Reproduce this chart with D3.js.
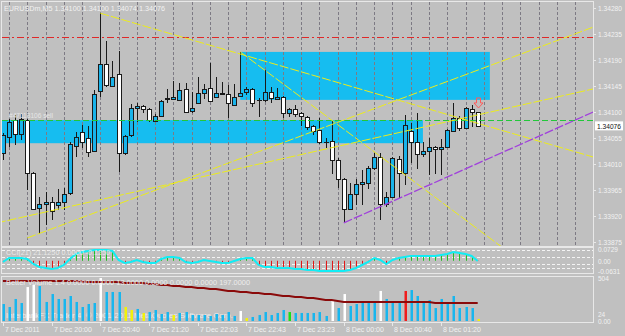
<!DOCTYPE html>
<html>
<head>
<meta charset="utf-8">
<script src="https://cdn.jsdelivr.net/npm/d3@7"></script>
<style>
  body { margin: 0; background: #c0c0c0; }
  svg { display: block; font-family: "Liberation Sans", Arial, sans-serif; }
</style>
</head>
<body>
<div id="chart"></div>
<script>
// EURUSDm M5 bars
const opens  = [1.34029,1.34057,1.34086,1.34062,1.34086,1.33994,1.33934,1.33941,1.33944,1.33939,1.33944,1.33960,1.34041,1.34065,1.34055,1.34033,1.34136,1.34183,1.34145,1.34166,1.34029,1.34060,1.34107,1.34110,1.34105,1.34084,1.34093,1.34122,1.34122,1.34121,1.34140,1.34102,1.34116,1.34133,1.34142,1.34126,1.34133,1.34131,1.34112,1.34128,1.34135,1.34140,1.34121,1.34121,1.34135,1.34122,1.34126,1.34098,1.34105,1.34098,1.34091,1.34076,1.34069,1.34048,1.34050,1.34017,1.33984,1.33932,1.33958,1.33975,1.33977,1.34003,1.34022,1.33941,1.33953,1.34019,1.33994,1.34067,1.34048,1.34027,1.34033,1.34040,1.34036,1.34040,1.34067,1.34090,1.34072,1.34105,1.34100];
const highs  = [1.34064,1.34088,1.34095,1.34097,1.34088,1.33996,1.33953,1.33962,1.33953,1.33967,1.33968,1.34048,1.34065,1.34077,1.34076,1.34138,1.34271,1.34223,1.34188,1.34206,1.34060,1.34114,1.34116,1.34112,1.34107,1.34097,1.34121,1.34140,1.34154,1.34150,1.34150,1.34135,1.34161,1.34148,1.34185,1.34161,1.34152,1.34147,1.34148,1.34204,1.34143,1.34142,1.34124,1.34173,1.34143,1.34142,1.34128,1.34107,1.34112,1.34100,1.34093,1.34077,1.34090,1.34055,1.34084,1.34021,1.33986,1.33977,1.33984,1.34000,1.34007,1.34029,1.34029,1.33962,1.34022,1.34024,1.34095,1.34081,1.34098,1.34048,1.34055,1.34041,1.34053,1.34071,1.34116,1.34093,1.34109,1.34112,1.34100];
const lows   = [1.34017,1.34040,1.34043,1.34052,1.33965,1.33930,1.33889,1.33905,1.33913,1.33930,1.33930,1.33956,1.34022,1.34038,1.34022,1.34031,1.34126,1.34143,1.34143,1.33996,1.34026,1.34057,1.34083,1.34098,1.34083,1.34083,1.34091,1.34116,1.34121,1.34119,1.34098,1.34098,1.34114,1.34122,1.34119,1.34126,1.34129,1.34090,1.34110,1.34126,1.34129,1.34109,1.34091,1.34117,1.34116,1.34122,1.34090,1.34091,1.34091,1.34076,1.34069,1.34060,1.34045,1.34038,1.33993,1.33968,1.33908,1.33930,1.33939,1.33939,1.33967,1.34000,1.33913,1.33936,1.33951,1.33951,1.33974,1.34012,1.34002,1.34022,1.33991,1.33993,1.33991,1.34038,1.34065,1.34067,1.34072,1.34074,1.34074];
const closes = [1.34060,1.34083,1.34062,1.34088,1.33994,1.33932,1.33941,1.33944,1.33929,1.33944,1.33958,1.34045,1.34057,1.34048,1.34031,1.34131,1.34183,1.34147,1.34161,1.34029,1.34058,1.34107,1.34110,1.34105,1.34086,1.34093,1.34119,1.34124,1.34126,1.34138,1.34100,1.34107,1.34133,1.34140,1.34119,1.34133,1.34131,1.34116,1.34126,1.34133,1.34140,1.34116,1.34121,1.34135,1.34124,1.34126,1.34098,1.34105,1.34097,1.34093,1.34074,1.34067,1.34048,1.34048,1.34017,1.33984,1.33932,1.33958,1.33975,1.33979,1.34003,1.34022,1.33941,1.33953,1.34021,1.33994,1.34077,1.34048,1.34027,1.34033,1.34040,1.34036,1.34040,1.34069,1.34090,1.34072,1.34107,1.34100,1.34076];

// oscillator sub-window
const oscValues = [-0.0074,0.0173,0.0173,0.0173,0.0111,-0.0198,-0.0383,-0.0445,-0.0507,-0.0445,-0.0260,0.0111,0.0420,0.0544,0.0606,0.0667,0.0667,0.0667,0.0606,0.0049,-0.0136,-0.0074,0.0049,-0.0074,-0.0136,-0.0136,0.0111,0.0235,0.0235,0.0173,-0.0074,-0.0136,-0.0074,0.0049,-0.0012,-0.0074,-0.0136,-0.0136,-0.0012,0.0111,0.0173,0.0173,-0.0260,-0.0383,-0.0383,-0.0445,-0.0445,-0.0445,-0.0507,-0.0507,-0.0569,-0.0569,-0.0630,-0.0630,-0.0630,-0.0630,-0.0630,-0.0569,-0.0445,-0.0260,-0.0074,0.0173,0.0049,-0.0198,0.0049,0.0173,0.0235,0.0297,0.0297,0.0297,0.0297,0.0297,0.0358,0.0420,0.0544,0.0482,0.0420,0.0297,-0.0012];
const oscLevels = [0.066, 0.024, -0.020, -0.045];
const oscAxisLabels = ["0.0729", "0.00", "-0.0631"];
const oscAxisValues = [0.0729, 0.0, -0.0631];

// Better Volume sub-window
const volumes = [199,164,258,211,398,422,410,223,316,258,258,293,223,164,199,211,504,340,340,340,164,129,141,94,105,129,82,105,70,94,105,70,70,70,59,82,70,105,59,117,35,47,70,105,70,94,129,105,94,94,94,94,105,59,246,152,316,176,199,234,211,211,352,258,211,211,352,363,293,211,246,152,258,211,293,152,164,152,24];
const volumeKinds = ["c","c","c","c","w","w","c","c","c","c","c","c","c","c","c","c","w","c","c","c","y","y","c","y","c","c","c","c","y","c","c","c","c","c","c","c","c","c","c","w","y","c","c","c","c","c","c","g","c","c","c","c","c","c","w","c","w","c","c","c","c","c","w","c","c","c","r","c","c","c","c","c","c","c","c","c","c","c","y"];
const volumeAvg = [469,469,469,469,469,469,469,469,469,469,469,469,469,463,457,457,457,457,457,457,445,445,445,445,434,434,422,422,410,410,398,398,387,387,375,375,363,352,352,340,340,328,328,316,316,305,293,293,281,281,270,270,258,246,246,234,223,223,223,223,223,223,223,223,223,223,223,223,223,223,223,211,211,211,211,211,211,211,211];
const volAxisLabels = ["504", "24", "0.00"];
const volAxisValues = [504, 85, 0];

// axes
const priceTicks = [1.34280,1.34235,1.34190,1.34145,1.34100,1.34055,1.34010,1.33965,1.33920,1.33875];
const lastPrice = 1.34076;
const timeLabels = ["7 Dec 2011","7 Dec 20:00","7 Dec 20:40","7 Dec 21:20","7 Dec 22:03","7 Dec 22:43","7 Dec 23:23","8 Dec 00:00","8 Dec 00:40","8 Dec 01:20"];
const timeLabelBars = [0,8,16,24,32,40,48,56,64,72];

// chart objects: [bar, price]
const rectangles = [
  {from: [39, 1.34204], to: [80, 1.34121]},
  {from: [-2, 1.34086], to: [69, 1.34046]}
];
const yellowLines = [
  [[16, 1.34271], [97, 1.34022]],
  [[39, 1.34204], [82, 1.33866]],
  [[-1, 1.33908], [97, 1.34140]],
  [[4, 1.33882], [97, 1.34247]]
];
const purpleLine = [[56, 1.33908], [97, 1.34100]];
const redLevel = 1.34230;
const orderLevel = 1.34086;
const orderLabel = "#47113106 sell";
const arrowBar = 78, arrowPrice = 1.34107;

const width = 625, height = 336;
const L = 2, R = 593;
const mainTop = 2, mainBottom = 246;
const oscTop = 248, oscBottom = 273.5;
const volTop = 276.5, volBottom = 322;

const fg = "#f2f2f2";
const bullFill = "#19b3ea";
const boxFill = "#16bdf0";

const svg = d3.select("#chart").append("svg")
  .attr("width", width).attr("height", height)
  .attr("viewBox", [0, 0, width, height]);

svg.append("rect").attr("width", width).attr("height", height).attr("fill", "#c0c0c0");

const x = d3.scaleLinear().domain([0, 78]).range([2.9, 477.7]);
const y = d3.scaleLinear().domain([1.33875, 1.34280]).range([242, 8]);
const yOsc = d3.scaleLinear().domain([-0.0631, 0.0729]).range([271, 249]);
const yVol = d3.scaleLinear().domain([0, 504]).range([321, 278]);
const cx = i => Math.round(x(i));

const defs = svg.append("defs");
[["clipMain", mainTop, mainBottom], ["clipOsc", oscTop, oscBottom], ["clipVol", volTop, volBottom]].forEach(([id, t, b]) => {
  defs.append("clipPath").attr("id", id).append("rect")
    .attr("x", L).attr("y", t).attr("width", R - L).attr("height", b - t);
});

// ---------- main window ----------
const main = svg.append("g").attr("clip-path", "url(#clipMain)");

main.selectAll("rect.box").data(rectangles).join("rect")
  .attr("class", "box")
  .attr("x", d => x(d.from[0]))
  .attr("y", d => y(d.from[1]))
  .attr("width", d => x(d.to[0]) - x(d.from[0]))
  .attr("height", d => y(d.to[1]) - y(d.from[1]))
  .attr("fill", boxFill);

// vertical grid
main.selectAll("line.grid").data(d3.range(1, 98, 3)).join("line")
  .attr("class", "grid")
  .attr("x1", d => cx(d) + 0.5).attr("x2", d => cx(d) + 0.5)
  .attr("y1", mainTop).attr("y2", mainBottom)
  .attr("stroke", "#7d7a84").attr("stroke-dasharray", "3,2");

main.append("line")
  .attr("x1", L).attr("x2", R)
  .attr("y1", Math.round(y(redLevel)) + 0.5).attr("y2", Math.round(y(redLevel)) + 0.5)
  .attr("stroke", "#e02828").attr("stroke-dasharray", "7,3,2,3");

// candles
const bars = d3.range(opens.length).map(i => ({i, o: opens[i], h: highs[i], l: lows[i], c: closes[i]}));
const candle = main.append("g").attr("shape-rendering", "crispEdges");
candle.selectAll("line").data(bars).join("line")
  .attr("x1", d => cx(d.i) + 0.5).attr("x2", d => cx(d.i) + 0.5)
  .attr("y1", d => y(d.h)).attr("y2", d => y(d.l))
  .attr("stroke", "#1a1a1a");
candle.selectAll("rect").data(bars.filter(d => d.o !== d.c)).join("rect")
  .attr("x", d => cx(d.i) - 1.5)
  .attr("y", d => Math.round(y(Math.max(d.o, d.c))) + 0.5)
  .attr("width", 4)
  .attr("height", d => Math.max(1, Math.round(y(Math.min(d.o, d.c)) - y(Math.max(d.o, d.c)))))
  .attr("fill", d => d.c > d.o ? bullFill : "#ffffff")
  .attr("stroke", "#1a1a1a");
candle.selectAll("line.doji").data(bars.filter(d => d.o === d.c)).join("line")
  .attr("class", "doji")
  .attr("x1", d => cx(d.i) - 2).attr("x2", d => cx(d.i) + 3)
  .attr("y1", d => Math.round(y(d.o)) + 0.5).attr("y2", d => Math.round(y(d.o)) + 0.5)
  .attr("stroke", "#1a1a1a");

// order line
main.append("line")
  .attr("x1", L).attr("x2", R)
  .attr("y1", Math.round(y(orderLevel)) + 0.5).attr("y2", Math.round(y(orderLevel)) + 0.5)
  .attr("stroke", "#22c83a").attr("stroke-dasharray", "6,3");
main.append("text")
  .attr("x", 9).attr("y", y(orderLevel) - 2)
  .attr("font-size", 7.5).attr("fill", "#e6e6e6")
  .attr("textLength", 44).attr("lengthAdjust", "spacingAndGlyphs")
  .text(orderLabel);

// trend lines
const lineGen = d3.line().x(d => x(d[0])).y(d => y(d[1]));
main.selectAll("path.trend").data(yellowLines).join("path")
  .attr("class", "trend")
  .attr("d", lineGen)
  .attr("fill", "none").attr("stroke", "#ecec1c").attr("stroke-width", 1)
  .attr("stroke-dasharray", "9,2");
main.append("path")
  .attr("d", lineGen(purpleLine))
  .attr("fill", "none").attr("stroke", "#a040dc").attr("stroke-width", 1.3)
  .attr("stroke-dasharray", "9,2");

// sell arrow
const ax = cx(arrowBar) + 0.5, ay = y(arrowPrice);
main.append("path")
  .attr("d", `M${ax - 2},${ay - 10} h4 v5 h2.5 L${ax},${ay} L${ax - 4.5},${ay - 5} h2.5 Z`)
  .attr("fill", "none").attr("stroke", "#ff5c5c");

// title
svg.append("text")
  .attr("x", 4).attr("y", 11)
  .attr("font-size", 8).attr("fill", fg)
  .attr("textLength", 161).attr("lengthAdjust", "spacingAndGlyphs")
  .text(`EURUSDm,M5  ${opens[78].toFixed(5)} ${highs[78].toFixed(5)} ${lows[78].toFixed(5)} ${closes[78].toFixed(5)}`);

// ---------- oscillator window ----------
const osc = svg.append("g").attr("clip-path", "url(#clipOsc)");
osc.selectAll("line.level").data(oscLevels).join("line")
  .attr("class", "level")
  .attr("x1", L).attr("x2", R)
  .attr("y1", d => Math.round(yOsc(d)) + 0.5).attr("y2", d => Math.round(yOsc(d)) + 0.5)
  .attr("stroke", "#f4f4f4").attr("stroke-dasharray", "3,2");
osc.selectAll("line.hist").data(oscValues).join("line")
  .attr("class", "hist")
  .attr("x1", (d, i) => cx(i) + 0.5).attr("x2", (d, i) => cx(i) + 0.5)
  .attr("y1", yOsc(0)).attr("y2", d => yOsc(d))
  .attr("stroke", d => d >= 0 ? "#22c022" : "#e01818");
osc.append("path")
  .attr("d", d3.line().x((d, i) => x(i)).y(d => yOsc(d))(oscValues))
  .attr("fill", "none").attr("stroke", "#12ecf4").attr("stroke-width", 2);
svg.append("text")
  .attr("x", 6).attr("y", 255)
  .attr("font-size", 7.5).attr("fill", "#e8e8e8")
  .attr("textLength", 104).attr("lengthAdjust", "spacingAndGlyphs")
  .text("CCI(21) 21.1250 0.0000 -0.1250");

// ---------- volume window ----------
const vol = svg.append("g").attr("clip-path", "url(#clipVol)");
vol.append("text")
  .attr("x", 6).attr("y", 318)
  .attr("font-size", 7.5).attr("fill", "#ececec")
  .attr("textLength", 227).attr("lengthAdjust", "spacingAndGlyphs")
  .text("InterbankFX Trader 4, © 2001-2011 MetaQuotes Software Corp.");
const kindColor = {c: "#18b6ee", w: "#ffffff", y: "#f2f20a", g: "#18e018", r: "#f01c1c"};
vol.selectAll("rect.vb").data(volumes).join("rect")
  .attr("class", "vb")
  .attr("x", (d, i) => cx(i) - 0.5)
  .attr("y", d => yVol(d))
  .attr("width", 2.5)
  .attr("height", d => yVol(0) - yVol(d))
  .attr("fill", (d, i) => kindColor[volumeKinds[i]]);
vol.append("path")
  .attr("d", d3.line().x((d, i) => x(i)).y(d => yVol(d))(volumeAvg))
  .attr("fill", "none").attr("stroke", "#8a0a0a").attr("stroke-width", 2);
svg.append("text")
  .attr("x", 6).attr("y", 285)
  .attr("font-size", 7.5).attr("fill", "#ececec")
  .attr("textLength", 244).attr("lengthAdjust", "spacingAndGlyphs")
  .text("Better Volume 1.4 0.0000 0.0000 13.0000 0.0000 0.0000 0.0000 197.0000");

// ---------- frames ----------
const frames = svg.append("g").attr("fill", "none").attr("stroke", "#e8e8e8").attr("shape-rendering", "crispEdges");
[[mainTop, mainBottom], [oscTop, oscBottom], [volTop, volBottom]].forEach(([t, b]) => {
  frames.append("rect").attr("x", 1.5).attr("y", t - 0.5).attr("width", R - 1).attr("height", b - t + 0.5);
});

// price axis
const axisG = svg.append("g").attr("font-size", 7.5).attr("fill", fg);
axisG.selectAll("line").data(priceTicks).join("line")
  .attr("x1", R).attr("x2", R + 3)
  .attr("y1", d => Math.round(y(d)) + 0.5).attr("y2", d => Math.round(y(d)) + 0.5)
  .attr("stroke", "#e8e8e8");
axisG.selectAll("text").data(priceTicks).join("text")
  .attr("x", 598).attr("y", d => y(d) + 3)
  .attr("textLength", 24).attr("lengthAdjust", "spacingAndGlyphs")
  .text(d => d.toFixed(5));
svg.append("rect")
  .attr("x", 595).attr("y", y(lastPrice) - 4.5).attr("width", 28).attr("height", 9)
  .attr("fill", "#ffffff");
svg.append("text")
  .attr("x", 597).attr("y", y(lastPrice) + 3)
  .attr("font-size", 7.5).attr("fill", "#111")
  .attr("textLength", 24).attr("lengthAdjust", "spacingAndGlyphs")
  .text(lastPrice.toFixed(5));

svg.append("g").attr("font-size", 6.5).attr("fill", fg)
  .selectAll("text").data(oscAxisLabels).join("text")
  .attr("x", 598).attr("y", (d, i) => yOsc(oscAxisValues[i]) + 3)
  .text(d => d);

svg.append("g").attr("font-size", 6.5).attr("fill", fg)
  .selectAll("text").data(volAxisLabels).join("text")
  .attr("x", 598).attr("y", (d, i) => yVol(volAxisValues[i]) + 3)
  .text(d => d);

// time axis
const timeG = svg.append("g");
timeG.selectAll("line").data(timeLabelBars).join("line")
  .attr("x1", d => cx(d) + 0.5).attr("x2", d => cx(d) + 0.5)
  .attr("y1", volBottom).attr("y2", volBottom + 4)
  .attr("stroke", "#e8e8e8");
timeG.selectAll("text").data(timeLabels).join("text")
  .attr("x", (d, i) => cx(timeLabelBars[i]) + 2)
  .attr("y", 332)
  .attr("font-size", 7.5).attr("fill", fg)
  .attr("textLength", d => d.length * 3.45).attr("lengthAdjust", "spacingAndGlyphs")
  .text(d => d);
</script>
</body>
</html>
